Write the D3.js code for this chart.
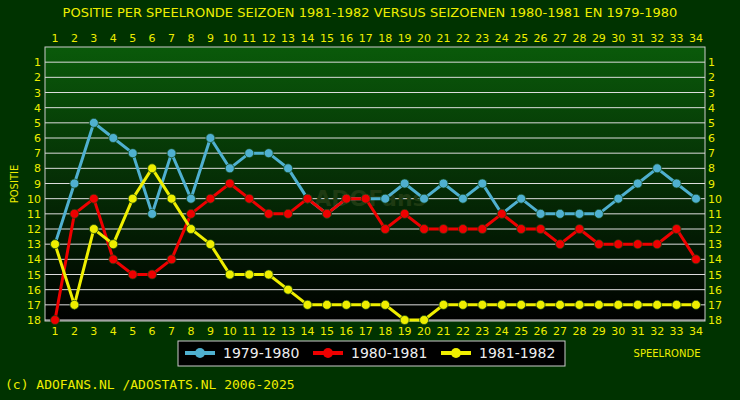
<!DOCTYPE html>
<html><head><meta charset="utf-8">
<script src="https://cdn.jsdelivr.net/npm/d3@7"></script>
<style>body{margin:0;background:#003300}svg{display:block}</style>
</head><body>
<script>
const rounds = d3.range(1, 35)
const positions = d3.range(1, 19)
const seasons = ["1979-1980", "1980-1981", "1981-1982"]
const colors = ["#4fb0d0", "#ee0000", "#eeee00"]
const s7980 = [13,9,5,6,7,11,7,10,6,8,7,7,8,10,11,10,10,10,9,10,9,10,9,11,10,11,11,11,11,10,9,8,9,10]
const s8081 = [18,11,10,14,15,15,14,11,10,9,10,11,11,10,11,10,10,12,11,12,12,12,12,11,12,12,13,12,13,13,13,13,12,14]
const s8182 = [13,17,12,13,10,8,10,12,13,15,15,15,16,17,17,17,17,17,18,18,17,17,17,17,17,17,17,17,17,17,17,17,17,17]
const series = [s7980, s8081, s8182]

const W = 740, H = 400
const svg = d3.select("body").append("svg").attr("width", W).attr("height", H)
const font = "DejaVu Sans"

const defs = svg.append("defs")
const grad = defs.append("linearGradient").attr("id", "bg").attr("x1", 0).attr("x2", 0).attr("y1", 0).attr("y2", 1)
grad.append("stop").attr("offset", "0%").attr("stop-color", "#0a5a0a")
grad.append("stop").attr("offset", "100%").attr("stop-color", "#000000")

const plotL = 45, plotR = 705, plotT = 47, plotB = 321
const x = d3.scaleLinear().domain([1, 34]).range([55, 696])
const y = d3.scaleLinear().domain([0, 18]).range([plotT, 320])

svg.append("text").attr("x", W/2).attr("y", 17).attr("text-anchor", "middle")
    .attr("fill", "#eeee00").style("font-family", font).style("font-size", "13px")
    .text("POSITIE PER SPEELRONDE SEIZOEN 1981-1982 VERSUS SEIZOENEN 1980-1981 EN 1979-1980")

svg.append("rect").attr("x", plotL).attr("y", plotT).attr("width", plotR-plotL).attr("height", plotB-plotT)
    .attr("fill", "url(#bg)").attr("stroke", "#cccccc")

// gridlines
svg.selectAll(".grid").data(positions).enter().append("line")
    .attr("x1", plotL).attr("x2", plotR).attr("y1", d => y(d)).attr("y2", d => y(d))
    .attr("stroke", "#dddddd").attr("stroke-width", 1)

// labels around the plot
const lab = (data, xf, yf, anchor) => svg.append("g").selectAll("text").data(data).enter().append("text")
    .attr("x", xf).attr("y", yf).attr("text-anchor", anchor)
    .attr("fill", "#eeee00").style("font-family", font).style("font-size", "11px").text(d => d)
lab(positions, plotL - 4, d => y(d) + 4, "end")
lab(positions, plotR + 3, d => y(d) + 4, "start")
lab(rounds, d => x(d), 42, "middle")
lab(rounds, d => x(d), 335, "middle")

svg.append("text").attr("transform", `translate(18,${(plotT+plotB)/2}) rotate(-90)`).attr("text-anchor", "middle")
    .attr("fill", "#eeee00").style("font-family", font).style("font-size", "10px").text("POSITIE")
svg.append("text").attr("x", 667).attr("y", 357).attr("text-anchor", "middle")
    .attr("fill", "#eeee00").style("font-family", font).style("font-size", "10px").text("SPEELRONDE")

// watermark
svg.append("text").attr("x", 370).attr("y", 206).attr("text-anchor", "middle")
    .attr("fill", "#1e3a12").style("font-family", font).style("font-weight", "bold").style("font-size", "22px").text("ADOFans")

const line = d3.line().x((d, i) => x(i + 1)).y(d => y(d))
series.forEach((s, k) => {
    const g = svg.append("g")
    g.append("path").datum(s).attr("d", line).attr("fill", "none")
        .attr("stroke", colors[k]).attr("stroke-width", 3)
    g.selectAll("circle").data(s).enter().append("circle")
        .attr("cx", (d, i) => x(i + 1)).attr("cy", d => y(d)).attr("r", 4.5)
        .attr("fill", colors[k]).attr("stroke", "#114411").attr("stroke-width", 0.7)
})

// legend
const lg = svg.append("g")
lg.append("rect").attr("x", 178).attr("y", 341).attr("width", 387).attr("height", 25)
    .attr("fill", "#000").attr("stroke", "#cccccc")
seasons.forEach((s, k) => {
    const lx = 185 + k * 128
    lg.append("line").attr("x1", lx).attr("x2", lx + 30).attr("y1", 353).attr("y2", 353)
        .attr("stroke", colors[k]).attr("stroke-width", 4)
    lg.append("circle").attr("cx", lx + 15).attr("cy", 353).attr("r", 5).attr("fill", colors[k])
    lg.append("text").attr("x", lx + 38).attr("y", 358).attr("fill", "#eeeeee")
        .style("font-family", font).style("font-size", "14px").text(s)
})

svg.append("text").attr("x", 5).attr("y", 389).attr("fill", "#eeee00")
    .style("font-family", "DejaVu Sans Mono").style("font-size", "13px")
    .text("(c) ADOFANS.NL /ADOSTATS.NL 2006-2025")
</script>
</body></html>
